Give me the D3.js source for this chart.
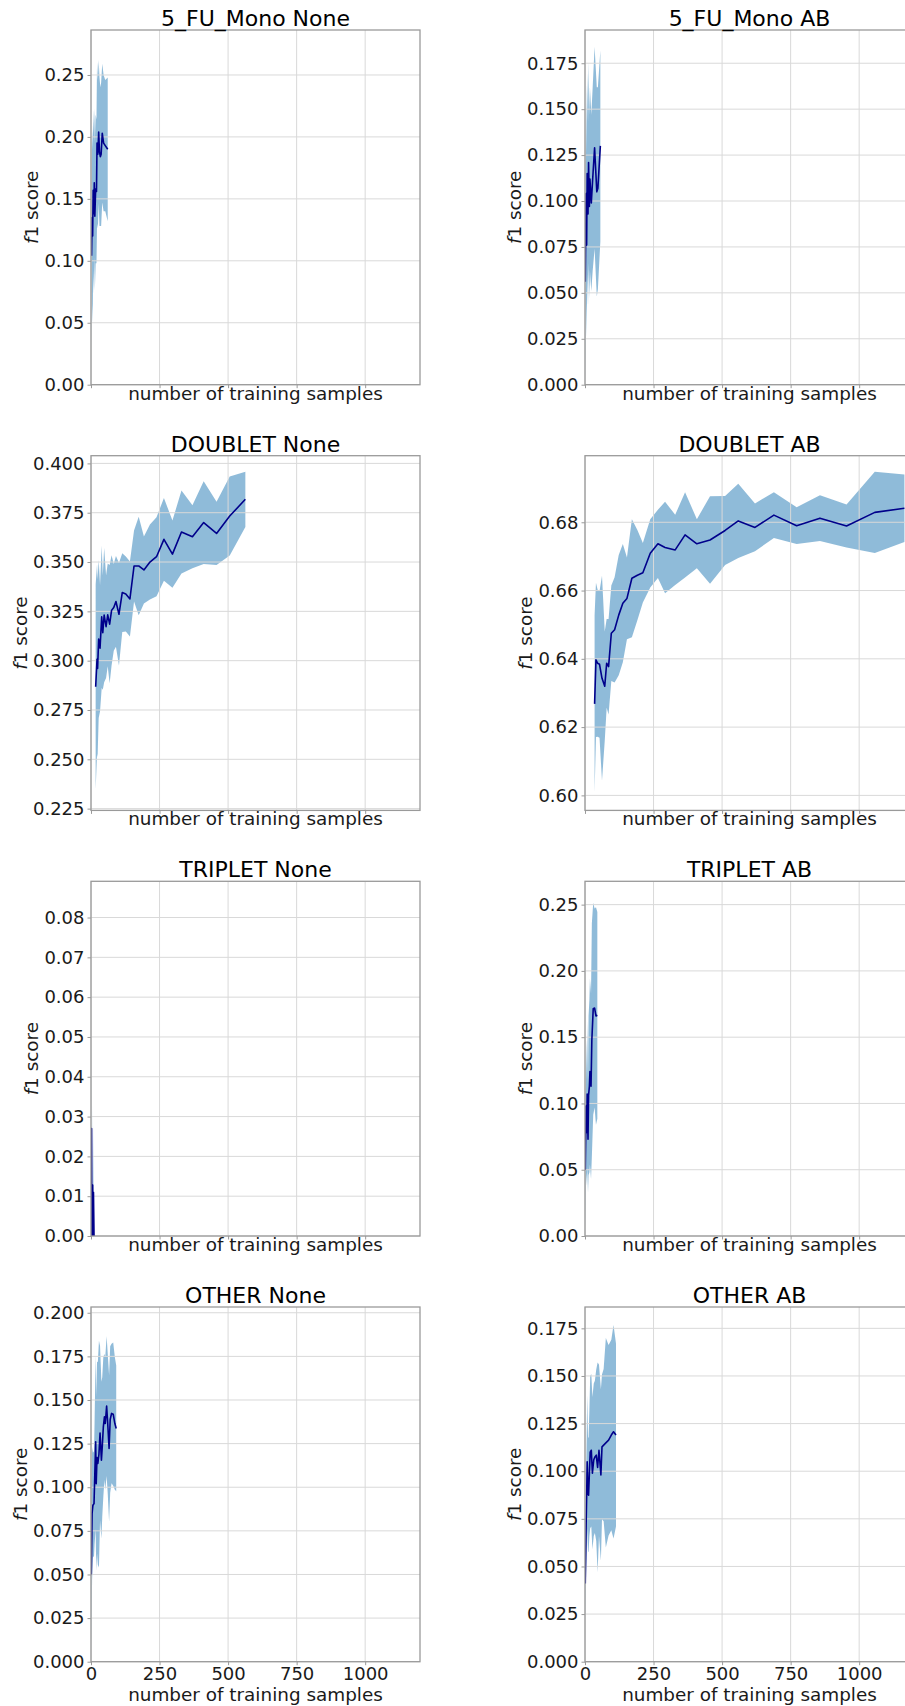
<!DOCTYPE html>
<html>
<head>
<meta charset="utf-8">
<script src="https://cdn.jsdelivr.net/npm/d3@7"></script>
<style>
  html, body { margin: 0; padding: 0; background: #fff; overflow: hidden; }
  svg { display: block; font-family: "DejaVu Sans", sans-serif; }
</style>
</head>
<body>
<script>
// ---- shared x axis -------------------------------------------------------
const xLimits = [0, 1200];
const xTickValues = [0, 250, 500, 750, 1000];
const xTickLabels = ["0", "250", "500", "750", "1000"];

// ---- panel titles ------------------------------------------------------
const panelTitles = [
  "5_FU_Mono None", "5_FU_Mono AB",
  "DOUBLET None", "DOUBLET AB",
  "TRIPLET None", "TRIPLET AB",
  "OTHER None", "OTHER AB"
];

// ---- 5_FU_Mono None ------------------------------------------------------
const fuNoneSamples = [2, 4, 6, 8, 10, 12, 14, 17, 20, 22, 25, 28, 31, 34, 37, 41, 46, 52, 61];
const fuNoneMean = [0.104, 0.135, 0.120, 0.157, 0.138, 0.163, 0.136, 0.158, 0.156, 0.195, 0.186, 0.204, 0.188, 0.184, 0.186, 0.203, 0.195, 0.193, 0.190];
const fuNoneStd  = [0.075, 0.070, 0.070, 0.065, 0.065, 0.060, 0.060, 0.060, 0.058, 0.065, 0.060, 0.058, 0.060, 0.056, 0.058, 0.056, 0.055, 0.053, 0.058];
const fuNoneYLim = [0, 0.2863];
const fuNoneYTicks = ["0.00", "0.05", "0.10", "0.15", "0.20", "0.25"];

// ---- 5_FU_Mono AB --------------------------------------------------------
const fuAbSamples = [1, 4, 6, 8, 11, 13, 16, 18, 23, 28, 35, 43, 47, 56];
const fuAbMean = [0.056, 0.104, 0.076, 0.115, 0.093, 0.121, 0.097, 0.112, 0.099, 0.112, 0.129, 0.105, 0.107, 0.130];
const fuAbStd  = [0.056, 0.060, 0.050, 0.055, 0.050, 0.055, 0.050, 0.050, 0.048, 0.050, 0.055, 0.057, 0.055, 0.052];
const fuAbYLim = [0, 0.1931];
const fuAbYTicks = ["0.000", "0.025", "0.050", "0.075", "0.100", "0.125", "0.150", "0.175"];

// ---- DOUBLET None --------------------------------------------------------
const dblNoneSamples = [17, 22, 24, 28, 33, 39, 43, 48, 55, 61, 68, 75, 83, 91, 102, 114, 127, 142, 157, 174, 193, 215, 239, 266, 297, 330, 370, 411, 458, 506, 563];
const dblNoneMean = [0.2868, 0.3007, 0.2961, 0.3110, 0.3063, 0.3222, 0.3142, 0.3231, 0.3172, 0.3232,
                     0.3185, 0.3255, 0.3270, 0.3300, 0.3235, 0.3345, 0.3338, 0.3313, 0.3480, 0.3480,
                     0.3460, 0.3500, 0.3527, 0.3615, 0.3540, 0.3652, 0.3628, 0.3700, 0.3645, 0.3733, 0.3818];
const dblNoneStd  = [0.052, 0.048, 0.045, 0.040, 0.032, 0.036, 0.029, 0.034, 0.026, 0.026,
                     0.030, 0.028, 0.022, 0.023, 0.026, 0.020, 0.019, 0.019, 0.018, 0.025,
                     0.017, 0.019, 0.020, 0.021, 0.017, 0.021, 0.016, 0.021, 0.016, 0.020, 0.014];
const dblNoneYLim = [0.2241, 0.4039];
const dblNoneYTicks = ["0.225", "0.250", "0.275", "0.300", "0.325", "0.350", "0.375", "0.400"];

// ---- DOUBLET AB ----------------------------------------------------------
const dblAbSamples = [35, 40, 46, 53, 62, 72, 79, 86, 96, 108, 123, 138, 153, 171, 191, 211, 238, 266, 292, 329, 365, 408, 456, 511, 559, 620, 689, 772, 857, 954, 1057, 1165];
const dblAbMean = [0.6268, 0.6397, 0.6387, 0.6384, 0.6343, 0.6320, 0.6387, 0.6377, 0.6475, 0.6485,
                   0.6528, 0.6563, 0.6577, 0.6636, 0.6645, 0.6652, 0.6709, 0.6737, 0.6726, 0.6719,
                   0.6763, 0.6737, 0.6748, 0.6776, 0.6804, 0.6785, 0.6821, 0.6790, 0.6812, 0.6789,
                   0.6829, 0.6841];
const dblAbStd  = [0.0260, 0.0226, 0.0215, 0.0215, 0.0300, 0.0160, 0.0130, 0.0140, 0.0140, 0.0154,
                   0.0176, 0.0173, 0.0120, 0.0173, 0.0132, 0.0087, 0.0100, 0.0100, 0.0134, 0.0103,
                   0.0125, 0.0072, 0.0128, 0.0101, 0.0109, 0.0070, 0.0067, 0.0054, 0.0067, 0.0063,
                   0.0119, 0.0099];
const dblAbYLim = [0.5956, 0.6995];
const dblAbYTicks = ["0.60", "0.62", "0.64", "0.66", "0.68"];

// ---- TRIPLET None --------------------------------------------------------
const triNoneSamples = [1, 2, 3, 5, 6, 8, 9, 11, 14];
const triNoneMean = [0.0, 0.027, 0.0, 0.0, 0.0128, 0.0, 0.011, 0.0, 0.0];
const triNoneStd  = [0.0, 0.024, 0.0, 0.0, 0.020, 0.0, 0.017, 0.0, 0.0];
const triNoneYLim = [0, 0.0891];
const triNoneYTicks = ["0.00", "0.01", "0.02", "0.03", "0.04", "0.05", "0.06", "0.07", "0.08"];

// ---- TRIPLET AB ----------------------------------------------------------
const triAbSamples = [1, 4, 6, 8, 11, 13, 16, 18, 22, 25, 30, 35, 40, 45];
const triAbMean = [0.050, 0.098, 0.078, 0.107, 0.073, 0.106, 0.113, 0.124, 0.113, 0.148, 0.1715, 0.172, 0.166, 0.1665];
const triAbStd  = [0.045, 0.050, 0.040, 0.055, 0.040, 0.060, 0.065, 0.070, 0.070, 0.088, 0.080, 0.075, 0.082, 0.078];
const triAbYLim = [0, 0.2676];
const triAbYTicks = ["0.00", "0.05", "0.10", "0.15", "0.20", "0.25"];

// ---- OTHER None ----------------------------------------------------------
const othNoneSamples = [1, 4, 7, 11, 13, 17, 19, 22, 25, 29, 33, 38, 41, 45, 49, 52, 57, 61, 66, 70, 75, 81, 87, 92];
const othNoneMean = [0.050, 0.085, 0.0897, 0.0906, 0.102, 0.126, 0.102, 0.117, 0.1136, 0.119,
                     0.131, 0.1155, 0.123, 0.1346, 0.1403, 0.1365, 0.1465, 0.1365, 0.1222, 0.1388,
                     0.1423, 0.1419, 0.1365, 0.1337];
const othNoneStd  = [0.045, 0.038, 0.030, 0.030, 0.035, 0.050, 0.050, 0.055, 0.058, 0.065,
                     0.050, 0.045, 0.040, 0.040, 0.036, 0.038, 0.040, 0.040, 0.042, 0.042,
                     0.040, 0.041, 0.038, 0.036];
const othNoneYLim = [0, 0.2033];
const othNoneYTicks = ["0.000", "0.025", "0.050", "0.075", "0.100", "0.125", "0.150", "0.175", "0.200"];

// ---- OTHER AB ------------------------------------------------------------
const othAbSamples = [1, 4, 6, 8, 11, 13, 16, 19, 23, 27, 32, 36, 41, 46, 51, 58, 62, 68, 76, 86, 96, 104, 113];
const othAbMean = [0.041, 0.071, 0.0865, 0.105, 0.088, 0.0874, 0.099, 0.110, 0.111, 0.099,
                   0.106, 0.1075, 0.1084, 0.102, 0.111, 0.098, 0.1128, 0.1137, 0.1149, 0.1163,
                   0.119, 0.1207, 0.119];
const othAbStd  = [0.020, 0.025, 0.030, 0.035, 0.030, 0.030, 0.033, 0.040, 0.040, 0.040,
                   0.040, 0.040, 0.045, 0.055, 0.045, 0.045, 0.038, 0.040, 0.055, 0.050,
                   0.050, 0.056, 0.048];
const othAbYLim = [0, 0.1862];
const othAbYTicks = ["0.000", "0.025", "0.050", "0.075", "0.100", "0.125", "0.150", "0.175"];

// ---- assemble panels (row-major: None | AB) ------------------------------
const panels = [
  [fuNoneSamples, fuNoneMean, fuNoneStd, fuNoneYLim, fuNoneYTicks],
  [fuAbSamples, fuAbMean, fuAbStd, fuAbYLim, fuAbYTicks],
  [dblNoneSamples, dblNoneMean, dblNoneStd, dblNoneYLim, dblNoneYTicks],
  [dblAbSamples, dblAbMean, dblAbStd, dblAbYLim, dblAbYTicks],
  [triNoneSamples, triNoneMean, triNoneStd, triNoneYLim, triNoneYTicks],
  [triAbSamples, triAbMean, triAbStd, triAbYLim, triAbYTicks],
  [othNoneSamples, othNoneMean, othNoneStd, othNoneYLim, othNoneYTicks],
  [othAbSamples, othAbMean, othAbStd, othAbYLim, othAbYTicks]
].map(([xs, mean, std, ylim, yticks], i) => ({
  title: panelTitles[i],
  points: xs.map((s, j) => ({ s, m: mean[j], sd: std[j] })),
  ylim, yticks
}));

// ---- layout --------------------------------------------------------------
const W = 905, H = 1706;
const colLeft = [91, 585];
const plotW = 329;
const rowTop = [30, 455.7, 881.3, 1307];
const plotH = 354.7;

const textColor = "#1a1a1a";
const spineColor = "#9a9a9a";
const gridColor = "#d9d9d9";
const bandColor = "#1f77b4";
const lineColor = "#00008b";
const tickFont = 18;
const labelFont = 18.4;
const titleFont = 22;

const svg = d3.select("body").append("svg")
  .attr("width", W).attr("height", H)
  .attr("viewBox", `0 0 ${W} ${H}`);

const defs = svg.append("defs");

panels.forEach((p, i) => {
  const col = i % 2, row = Math.floor(i / 2);
  const left = colLeft[col], top = rowTop[row];
  const bottom = top + plotH, right = left + plotW;
  const isBottomRow = row === rowTop.length - 1;

  const x = d3.scaleLinear().domain(xLimits).range([left, right]);
  const y = d3.scaleLinear().domain(p.ylim).range([bottom, top]);
  const yTickVals = p.yticks.map(Number);

  const clipId = "plot-clip-" + i;
  defs.append("clipPath").attr("id", clipId)
    .append("rect").attr("x", left).attr("y", top).attr("width", plotW).attr("height", plotH);

  const g = svg.append("g");

  // std band
  const area = d3.area()
    .x(d => x(d.s))
    .y0(d => y(d.m - d.sd))
    .y1(d => y(d.m + d.sd));
  g.append("path")
    .datum(p.points)
    .attr("clip-path", `url(#${clipId})`)
    .attr("d", area)
    .attr("fill", bandColor)
    .attr("fill-opacity", 0.5)
    .attr("stroke", "none");

  // grid
  const grid = g.append("g").attr("stroke", gridColor).attr("stroke-width", 1);
  grid.selectAll("line.gx").data(xTickValues).join("line")
    .attr("class", "gx")
    .attr("x1", d => x(d)).attr("x2", d => x(d))
    .attr("y1", top).attr("y2", bottom);
  grid.selectAll("line.gy").data(yTickVals).join("line")
    .attr("class", "gy")
    .attr("x1", left).attr("x2", right)
    .attr("y1", d => y(d)).attr("y2", d => y(d));

  // mean line
  const line = d3.line().x(d => x(d.s)).y(d => y(d.m));
  g.append("path")
    .datum(p.points)
    .attr("clip-path", `url(#${clipId})`)
    .attr("d", line)
    .attr("fill", "none")
    .attr("stroke", lineColor)
    .attr("stroke-width", 1.6)
    .attr("stroke-linejoin", "round");

  // frame
  g.append("rect")
    .attr("x", left).attr("y", top).attr("width", plotW).attr("height", plotH)
    .attr("fill", "none").attr("stroke", spineColor).attr("stroke-width", 1.3);

  // y axis
  const yAxis = g.append("g")
    .attr("transform", `translate(${left},0)`)
    .call(d3.axisLeft(y).tickValues(yTickVals)
      .tickFormat((d, k) => p.yticks[k]).tickSize(3.5).tickPadding(3));
  yAxis.select(".domain").remove();
  yAxis.selectAll(".tick line").attr("stroke", spineColor);
  yAxis.selectAll(".tick text")
    .attr("fill", textColor)
    .attr("font-size", tickFont)
    .attr("font-family", "DejaVu Sans, sans-serif");
  yAxis.attr("font-size", null).attr("font-family", null);

  // x axis
  const xAxis = g.append("g")
    .attr("transform", `translate(0,${bottom})`)
    .call(d3.axisBottom(x).tickValues(xTickValues)
      .tickFormat((d, k) => isBottomRow ? xTickLabels[k] : "").tickSize(3.5));
  xAxis.select(".domain").remove();
  xAxis.selectAll(".tick line").attr("stroke", spineColor);
  xAxis.selectAll(".tick text")
    .attr("fill", textColor)
    .attr("font-size", tickFont)
    .attr("font-family", "DejaVu Sans, sans-serif")
    .attr("y", 18).attr("dy", 0);
  xAxis.attr("font-size", null).attr("font-family", null);

  // title
  g.append("text")
    .attr("x", (left + right) / 2).attr("y", top - 4)
    .attr("text-anchor", "middle")
    .attr("font-size", titleFont)
    .attr("fill", "#000")
    .text(p.title);

  // x label
  g.append("text")
    .attr("x", (left + right) / 2)
    .attr("y", bottom + (isBottomRow ? 39 : 15))
    .attr("text-anchor", "middle")
    .attr("font-size", labelFont)
    .attr("fill", textColor)
    .text("number of training samples");

  // y label, placed left of the widest tick label
  let minX = Infinity;
  yAxis.selectAll(".tick text").each(function () {
    minX = Math.min(minX, this.getBBox().x);
  });
  const lx = left + minX - 6;
  const yl = g.append("text")
    .attr("transform", `translate(${lx},${(top + bottom) / 2}) rotate(-90)`)
    .attr("text-anchor", "middle")
    .attr("font-size", labelFont)
    .attr("fill", textColor);
  yl.append("tspan").attr("font-style", "italic").text("f");
  yl.append("tspan").text("1 score");
});
</script>
</body>
</html>
